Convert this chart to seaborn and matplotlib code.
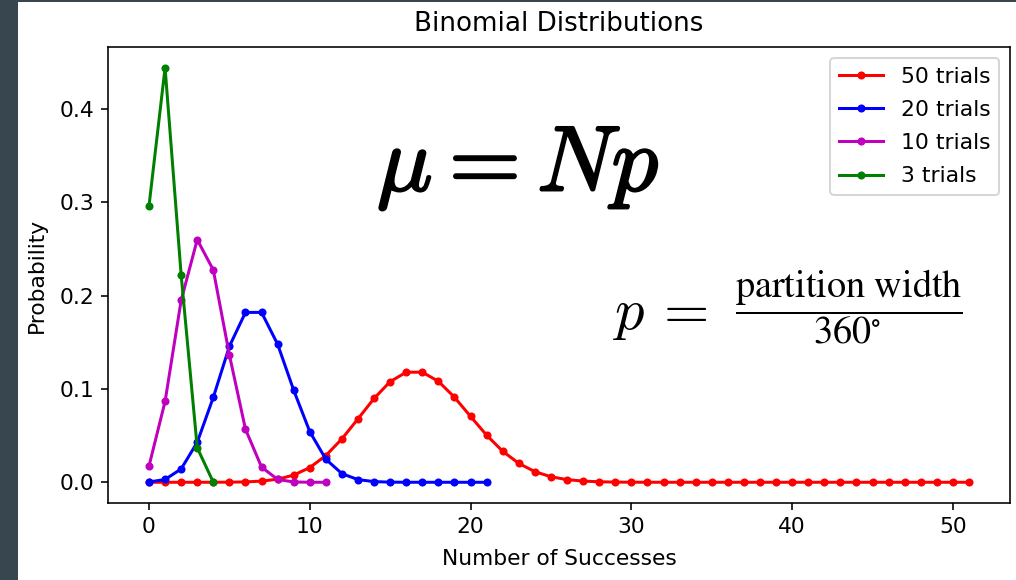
import matplotlib
matplotlib.use("Agg")
import matplotlib.pyplot as plt
from matplotlib.patches import Rectangle
import matplotlib.patheffects as pe
import seaborn as sns
import pandas as pd

# ---- data ----
trials_labels = ["50 trials", "20 trials", "10 trials", "3 trials"]
colors = ["r", "b", "m", "g"]

prob_50 = [0.0000000, 0.0000000, 0.0000005, 0.0000039, 0.0000226, 0.000104,
           0.000390, 0.001226, 0.003295, 0.007688, 0.015760, 0.028655,
           0.046564, 0.068055, 0.089930, 0.107916, 0.118033, 0.118033,
           0.108197, 0.091113, 0.070613, 0.050438, 0.033243, 0.020235,
           0.011382, 0.005919, 0.002846, 0.001265, 0.000520, 0.000197,
           0.000069, 0.000022, 0.0000066, 0.0000018, 0.0000005, 0.0000001,
           0.0, 0.0, 0.0, 0.0, 0.0, 0.0, 0.0, 0.0, 0.0, 0.0, 0.0, 0.0,
           0.0, 0.0, 0.0, 0.0]
prob_20 = [0.000301, 0.003007, 0.014285, 0.042854, 0.091064, 0.145703,
           0.182129, 0.182129, 0.147980, 0.098653, 0.054259, 0.024663,
           0.009249, 0.002846, 0.000711, 0.000142, 0.0000222, 0.0000026,
           0.0000002, 0.0, 0.0, 0.0]
prob_10 = [0.017342, 0.086708, 0.195092, 0.260123, 0.227608, 0.136565,
           0.056902, 0.016258, 0.003048, 0.000339, 0.0000169, 0.0]
prob_3 = [0.296296, 0.444444, 0.222222, 0.037037, 0.0]

series = [prob_50, prob_20, prob_10, prob_3]

plt.rcParams["font.size"] = 10.8
plt.rcParams["mathtext.fontset"] = "cm"

DPI = 145
fig = plt.figure(figsize=(1016 / DPI, 580 / DPI), dpi=DPI)
ax = fig.add_axes([108 / 1016, 1 - 503 / 580, (1010 - 108) / 1016, (503 - 47) / 580])

for vals, lab, col in zip(series, trials_labels, colors):
    df = pd.DataFrame({"k": list(range(len(vals))), "p": vals})
    sns.lineplot(data=df, x="k", y="p", ax=ax, color=col, marker=".",
                 markersize=6, markeredgecolor=col, markerfacecolor=col,
                 markeredgewidth=1.0, linewidth=1.5, label=lab)

ax.set_title("Binomial Distributions", fontsize=13, pad=8)
ax.set_xlabel("Number of Successes", labelpad=6)
ax.set_ylabel("Probability", labelpad=6)
ax.margins(x=0.05, y=0.05)
ax.set_xticks([0, 10, 20, 30, 40, 50])
ax.set_yticks([0.0, 0.1, 0.2, 0.3, 0.4])
ax.tick_params(labelsize=10.8)
ax.legend(loc="upper right", fontsize=10.9, labelspacing=0.6)

thick = [pe.withStroke(linewidth=1.1, foreground="black")]
fig.text(518 / 1016, 1 - 168 / 580, r"$\mu = Np$",
         fontsize=46, ha="center", va="center", math_fontfamily="cm",
         path_effects=thick)
fig.text(660 / 1016, 1 - 313 / 580, r"$p\,=$",
         fontsize=29, ha="center", va="center", math_fontfamily="cm")
fig.text(849 / 1016, 1 - 307 / 580,
         r"$\dfrac{\mathrm{partition\ width}}{360^{\circ}}$",
         fontsize=19, ha="center", va="center", math_fontfamily="stix")

# screenshot frame (dark strips)
fig.patches.append(Rectangle((0, 0), 18 / 1016, 1, transform=fig.transFigure,
                             facecolor="#37464f", edgecolor="none", zorder=-1))
fig.patches.append(Rectangle((0, 1 - 2 / 580), 1, 2 / 580, transform=fig.transFigure,
                             facecolor="#37464f", edgecolor="none", zorder=-1))

fig.savefig("out.png", dpi=DPI)
